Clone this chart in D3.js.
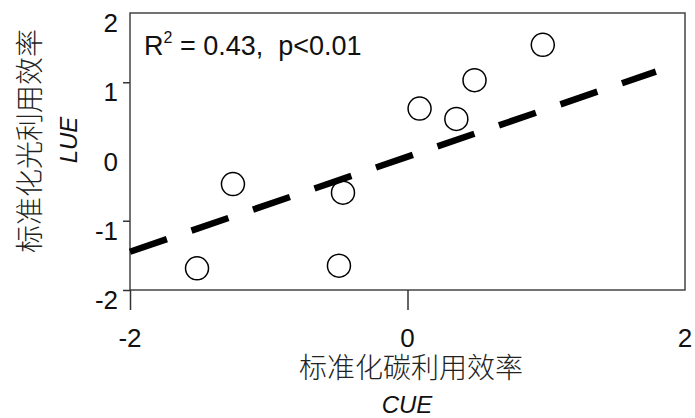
<!DOCTYPE html>
<html>
<head>
<meta charset="utf-8">
<script src="https://cdn.jsdelivr.net/npm/d3@7"></script>
<style>
  body { margin: 0; background: #fff; }
  text { font-family: "Liberation Sans", Arial, sans-serif; fill: #111; }
  .cjk { font-family: "Noto Sans CJK SC", sans-serif; font-weight: 300; fill: #222; }
</style>
</head>
<body>
<div id="chart"></div>
<script>
// standardized efficiencies, one point per site
const cueValues = [0.975, 0.483, 0.087, 0.352, -1.258, -0.465, -1.517, -0.494];
const lueValues = [1.54, 1.03, 0.62, 0.47, -0.47, -0.595, -1.687, -1.649];

// linear fit shown as dashed line
const fitSlope = 0.686;
const fitIntercept = -0.075;
const fitRange = [-2, 1.79];

const axisDomain = [-2, 2];
const tickLabels = [-2, -1, 0, 1, 2];
const yTickMarks = [1, -1, -2];
const xTickMarks = [-2, 0];

const statsText = "R";

const width = 695, height = 418;

const svg = d3.select("#chart")
    .append("svg")
    .attr("width", width)
    .attr("height", height);

svg.append("rect").attr("width", width).attr("height", height).attr("fill", "#fff");

const x = d3.scaleLinear().domain(axisDomain).range([130, 685]);
const y = d3.scaleLinear().domain(axisDomain).range([290, 13]);

// frame
svg.append("rect")
    .attr("x", x(-2)).attr("y", y(2))
    .attr("width", x(2) - x(-2)).attr("height", y(-2) - y(2))
    .attr("fill", "none")
    .attr("stroke", "#444")
    .attr("stroke-width", 1.5);

// ticks (only those drawn in the original)
const yAxis = d3.axisLeft(y).tickValues(yTickMarks).tickSize(7).tickFormat("");
const gy = svg.append("g").attr("transform", `translate(${x(-2)},0)`).call(yAxis);
gy.select(".domain").remove();
gy.selectAll("line").attr("stroke", "#333").attr("stroke-width", 1.5);

const xAxis = d3.axisBottom(x).tickValues(xTickMarks).tickSize(20).tickFormat("");
const gx = svg.append("g").attr("transform", `translate(0,${y(-2)})`).call(xAxis);
gx.select(".domain").remove();
gx.selectAll("line").attr("stroke", "#333").attr("stroke-width", 1.5);

// tick labels
svg.append("g").selectAll("text")
    .data(tickLabels)
    .enter()
    .append("text")
    .attr("x", 118)
    .attr("y", d => y(d) + 19)
    .attr("text-anchor", "end")
    .attr("font-size", "26px")
    .text(d => d);

svg.append("g").selectAll("text")
    .data(tickLabels.filter(d => d % 2 === 0))
    .enter()
    .append("text")
    .attr("x", d => x(d))
    .attr("y", 347)
    .attr("text-anchor", "middle")
    .attr("font-size", "26px")
    .text(d => d);

// regression line
svg.append("line")
    .attr("x1", x(fitRange[0]))
    .attr("y1", y(fitSlope * fitRange[0] + fitIntercept))
    .attr("x2", x(fitRange[1]))
    .attr("y2", y(fitSlope * fitRange[1] + fitIntercept))
    .attr("stroke", "#000")
    .attr("stroke-width", 6.5)
    .attr("stroke-dasharray", "39,26");

// points
svg.append("g").selectAll("circle")
    .data(cueValues.map((c, i) => ({ c, l: lueValues[i] })))
    .enter()
    .append("circle")
    .attr("cx", d => x(d.c))
    .attr("cy", d => y(d.l))
    .attr("r", 11.5)
    .attr("fill", "none")
    .attr("stroke", "#000")
    .attr("stroke-width", 1.5);

// stats annotation
const stat = svg.append("text")
    .attr("x", 144)
    .attr("y", 55)
    .attr("font-size", "27px")
    .style("white-space", "pre");
stat.append("tspan").text(statsText);
stat.append("tspan").attr("dy", -12).attr("font-size", "16px").text("2");
stat.append("tspan").attr("dy", 12).text(" = 0.43,  p<0.01");

// axis titles
svg.append("text")
    .attr("class", "cjk")
    .attr("x", 411).attr("y", 378)
    .attr("text-anchor", "middle")
    .attr("font-size", "28px")
    .text("标准化碳利用效率");

svg.append("text")
    .attr("x", 407).attr("y", 413)
    .attr("text-anchor", "middle")
    .attr("font-size", "24px")
    .attr("font-style", "italic")
    .text("CUE");

svg.append("text")
    .attr("class", "cjk")
    .attr("transform", "translate(40,141) rotate(-90)")
    .attr("text-anchor", "middle")
    .attr("font-size", "28px")
    .text("标准化光利用效率");

svg.append("text")
    .attr("transform", "translate(77,140) rotate(-90)")
    .attr("text-anchor", "middle")
    .attr("font-size", "24px")
    .attr("font-style", "italic")
    .text("LUE");
</script>
</body>
</html>
